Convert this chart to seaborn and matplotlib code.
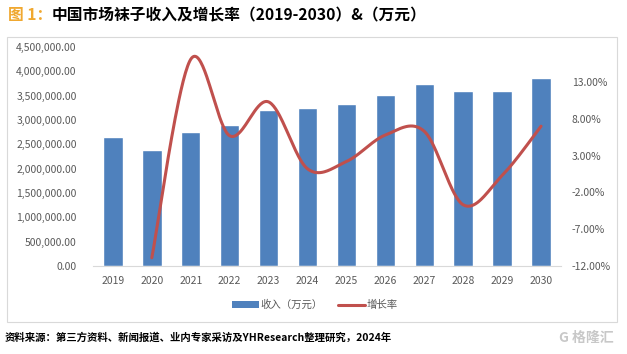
import matplotlib
matplotlib.use("Agg")
import matplotlib.pyplot as plt
import matplotlib.ticker as mticker
from matplotlib.patches import Rectangle, Patch
from matplotlib.lines import Line2D
import numpy as np
import seaborn as sns

# data
years = ["2019", "2020", "2021", "2022", "2023", "2024",
         "2025", "2026", "2027", "2028", "2029", "2030"]
revenue = [2660000, 2375000, 2750000, 2905000, 3210000, 3255000,
           3320000, 3515000, 3745000, 3595000, 3600000, 3870000]
growth_years = years[1:]
growth = [-0.109, 0.161, 0.057, 0.103, 0.012, 0.022,
          0.058, 0.063, -0.037, 0.003, 0.070]

bar_color = "#4F81BD"
line_color = "#C0504D"
tick_color = "#595959"

sns.set_theme(style="white")
plt.rcParams["font.family"] = ["Noto Sans CJK SC", "DejaVu Sans"]


def smooth_line(xs, ys, n=40):
    # Excel-style smoothed line (Bezier through each point)
    pts = np.column_stack([xs, ys]).astype(float)
    out = []
    for i in range(len(pts) - 1):
        p0 = pts[max(i - 1, 0)]
        p1 = pts[i]
        p2 = pts[i + 1]
        p3 = pts[min(i + 2, len(pts) - 1)]
        c1 = p1 + (p2 - p0) / 6
        c2 = p2 - (p3 - p1) / 6
        t = np.linspace(0, 1, n)[:, None]
        seg = ((1 - t) ** 3) * p1 + 3 * ((1 - t) ** 2) * t * c1 \
            + 3 * (1 - t) * t ** 2 * c2 + t ** 3 * p2
        out.append(seg if i == 0 else seg[1:])
    out = np.vstack(out)
    return out[:, 0], out[:, 1]


fig = plt.figure(figsize=(6.27, 3.54), dpi=100)
ax = fig.add_axes([0.149, 0.249, 0.745, 0.618])

sns.barplot(x=years, y=revenue, color=bar_color, width=0.5,
            saturation=1, ax=ax)
ax.set_ylim(0, 4500000)
ax.set_yticks(np.arange(0, 4500001, 500000))
ax.yaxis.set_major_formatter(mticker.FuncFormatter(lambda v, p: f"{v:,.2f}"))
ax.set_xlim(-0.5, len(years) - 0.5)
ax.set_xlabel("")
ax.set_ylabel("")
for s in ["top", "left", "right"]:
    ax.spines[s].set_visible(False)
ax.spines["bottom"].set_color("#D9D9D9")
ax.spines["bottom"].set_linewidth(0.8)
ax.tick_params(axis="y", length=0, pad=12, labelsize=7.5, labelcolor=tick_color)
ax.tick_params(axis="x", length=0, pad=7, labelsize=7.5, labelcolor=tick_color)

ax2 = ax.twinx()
gx = [years.index(y) for y in growth_years]
sx, sy = smooth_line(gx, growth)
ax2.plot(sx, sy, color=line_color, linewidth=2.2, solid_capstyle="round")
ax2.set_ylim(-0.12, 0.1776)
ax2.set_yticks(np.arange(-0.12, 0.131, 0.05))
ax2.yaxis.set_major_formatter(mticker.FuncFormatter(lambda v, p: f"{v * 100:.2f}%"))
for s in ["top", "left", "right", "bottom"]:
    ax2.spines[s].set_visible(False)
ax2.tick_params(axis="y", length=0, pad=8, labelsize=7.5, labelcolor=tick_color)
ax2.grid(False)
ax.grid(False)

handles = [Patch(facecolor=bar_color, edgecolor="none"),
           Line2D([0], [0], color=line_color, linewidth=2.2)]
fig.legend(handles, ["收入（万元）", "增长率"], loc="center",
           bbox_to_anchor=(0.502, 0.138), ncol=2, frameon=False,
           fontsize=7.5, handlelength=2.6, handleheight=0.6,
           handletextpad=0.2, columnspacing=1.4, labelcolor=tick_color)

# chart frame
fig.patches.append(Rectangle((7 / 627, 1 - 322 / 354), 610 / 627, 285 / 354,
                             transform=fig.transFigure, fill=False,
                             edgecolor="#D9D9D9", linewidth=0.8))

fig.text(8 / 627, 1 - 15 / 354, "图 1：", color="#F0A830", fontsize=11.3,
         fontweight="bold", va="center", ha="left")
fig.text(52 / 627, 1 - 15 / 354, "中国市场袜子收入及增长率（2019-2030）&（万元）",
         color="black", fontsize=11.3, fontweight="bold", va="center", ha="left")
fig.text(5 / 627, 1 - 338 / 354,
         "资料来源：第三方资料、新闻报道、业内专家采访及YHResearch整理研究，2024年",
         color="black", fontsize=7.5, fontweight="bold", va="center", ha="left")
fig.text(614 / 627, 1 - 338 / 354, "G 格隆汇", color="#C8C8C8", fontsize=10,
         fontweight="bold", va="center", ha="right")

fig.savefig("out.png", dpi=100)
